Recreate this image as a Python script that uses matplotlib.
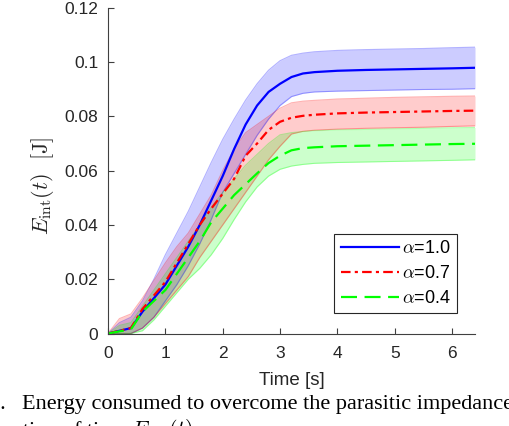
import numpy as np
import matplotlib
matplotlib.use("Agg")
import matplotlib.pyplot as plt

plt.rcParams['mathtext.fontset'] = 'cm'
plt.rcParams['font.family'] = ['Liberation Sans', 'DejaVu Sans']

# ---- data ----
t = [0, 0.2, 0.4, 0.6, 0.8, 1.0, 1.2, 1.4, 1.6, 1.8, 2.0, 2.2, 2.4, 2.6, 2.8,
     3.0, 3.2, 3.4, 3.6, 4.0, 4.5, 5.0, 5.5, 6.0, 6.4]

blue_mean = [0, 0.001, 0.002, 0.008, 0.013, 0.018, 0.025, 0.032, 0.040, 0.049,
             0.058, 0.068, 0.077, 0.084, 0.089, 0.092, 0.0945, 0.0958, 0.0963,
             0.0968, 0.0971, 0.0973, 0.0975, 0.0977, 0.0979]
blue_upper = [0, 0.004, 0.006, 0.012, 0.020, 0.029, 0.037, 0.045, 0.054, 0.063,
              0.0715, 0.079, 0.086, 0.092, 0.097, 0.1005, 0.1025, 0.1033, 0.1038,
              0.1043, 0.1046, 0.1048, 0.105, 0.1053, 0.1055]
blue_lower = [0, 0, 0, 0.002, 0.006, 0.012, 0.018, 0.025, 0.033, 0.042,
              0.052, 0.059, 0.066, 0.073, 0.079, 0.084, 0.0873, 0.0885, 0.089,
              0.0893, 0.0895, 0.0897, 0.0899, 0.090, 0.0902]

red_mean = [0, 0.001, 0.002, 0.009, 0.014, 0.019, 0.026, 0.033, 0.040, 0.046,
            0.0515, 0.057, 0.0655, 0.070, 0.075, 0.078, 0.0795, 0.0802, 0.0806,
            0.0811, 0.0814, 0.0816, 0.0818, 0.082, 0.0821]
red_upper = [0, 0.0055, 0.0072, 0.013, 0.0195, 0.026, 0.032, 0.037, 0.044, 0.051,
             0.060, 0.068, 0.074, 0.077, 0.080, 0.083, 0.085, 0.0856, 0.0859,
             0.0864, 0.0867, 0.087, 0.0872, 0.0874, 0.0875]
red_lower = [0, 0, 0, 0.002, 0.006, 0.011, 0.016, 0.021, 0.028, 0.034,
             0.040, 0.046, 0.052, 0.058, 0.064, 0.069, 0.0735, 0.0745, 0.0749,
             0.0753, 0.0756, 0.0758, 0.076, 0.0763, 0.0765]

green_mean = [0, 0.0008, 0.0015, 0.008, 0.012, 0.016, 0.022, 0.028, 0.034, 0.041,
              0.046, 0.051, 0.055, 0.059, 0.0628, 0.0655, 0.0675, 0.0683, 0.0686,
              0.069, 0.0692, 0.0694, 0.0696, 0.0698, 0.0699]
green_upper = [0, 0.003, 0.004, 0.010, 0.016, 0.022, 0.028, 0.034, 0.040, 0.0465,
               0.052, 0.057, 0.062, 0.066, 0.070, 0.0732, 0.0740, 0.0744, 0.0747,
               0.075, 0.0752, 0.0754, 0.0756, 0.0758, 0.0759]
green_lower = [0, 0, 0, 0.001, 0.005, 0.010, 0.015, 0.020, 0.024, 0.029,
               0.035, 0.042, 0.0485, 0.054, 0.058, 0.0605, 0.0617, 0.0623, 0.0627,
               0.063, 0.0632, 0.0634, 0.0636, 0.0638, 0.064]

labels = [r'$\alpha$=1.0', r'$\alpha$=0.7', r'$\alpha$=0.4']
xticks = [0, 1, 2, 3, 4, 5, 6]
yticks = [0, 0.02, 0.04, 0.06, 0.08, 0.1, 0.12]
ytick_labels = ['0', '0.02', '0.04', '0.06', '0.08', '0.1', '0.12']

# ---- figure ----
fig = plt.figure(figsize=(5.10, 4.26), dpi=100)
ax = fig.add_axes([108/510, 1-333.5/426, (475-108)/510, (333.5-7.8)/426])

series = [
    (blue_mean, blue_upper, blue_lower, '#0000ff', '-'),
    (red_mean, red_upper, red_lower, '#ff0000', (0, (4.3, 1.9, 1.4, 1.9))),
    (green_mean, green_upper, green_lower, '#00ff00', (0, (7.2, 3.4))),
]

for m, up, lo, c, ls in series:
    ax.fill_between(t, lo, up, color=c, alpha=0.2, linewidth=0)
    ax.plot(t, up, color=c, alpha=0.3, linewidth=0.8)
    ax.plot(t, lo, color=c, alpha=0.3, linewidth=0.8)

handles = []
for (m, up, lo, c, ls), lab in zip(series, labels):
    h, = ax.plot(t, m, color=c, linestyle=ls, linewidth=1.6, label=lab)
    handles.append(h)

ax.set_xlim(0, 6.4)
ax.set_ylim(0, 0.12)
ax.set_xticks(xticks)
ax.set_yticks(yticks)
ax.set_yticklabels(ytick_labels)
for s in ['top', 'right']:
    ax.spines[s].set_visible(False)
for s in ['left', 'bottom']:
    ax.spines[s].set_color('#404040')
    ax.spines[s].set_linewidth(0.8)
ax.tick_params(axis='both', direction='in', length=4, width=0.8,
               color='#404040', labelsize=12.5, labelcolor='#262626')
ax.tick_params(axis='x', pad=9)
ax.tick_params(axis='y', pad=7)

ax.set_xlabel('Time [s]', fontsize=13.5, color='#262626')
ax.xaxis.set_label_coords(0.5, -0.117)
ax.set_ylabel(r'$E_{\mathrm{int}}(t)\ \ [\mathrm{J}]$', fontsize=16, color='#262626')
ax.yaxis.set_label_coords(-0.142, 0.452)

leg = ax.legend(handles=handles, loc='lower right',
                bbox_to_anchor=(0.951, 0.0615), fontsize=13,
                handlelength=3.2, handletextpad=0.2, labelspacing=0.45,
                borderpad=0.35, borderaxespad=0, fancybox=False,
                frameon=True, framealpha=1, edgecolor='#262626')
leg.get_frame().set_linewidth(0.8)

# caption fragment (cropped by the figure edge, as in the reference)
fig.text(6/510, 1-409/426, 'Fig. 5.', fontsize=16, family='Liberation Serif',
         ha='right', va='baseline')
fig.text(22/510, 1-409/426,
         'Energy consumed to overcome the parasitic impedance as a func-',
         fontsize=16, family='Liberation Serif', ha='left', va='baseline')
fig.text(22/510, 1-436/426, r'tion of time $E_{\mathrm{int}}(t)$.',
         fontsize=16, family='Liberation Serif', ha='left', va='baseline')

fig.savefig('out.png', dpi=100)
